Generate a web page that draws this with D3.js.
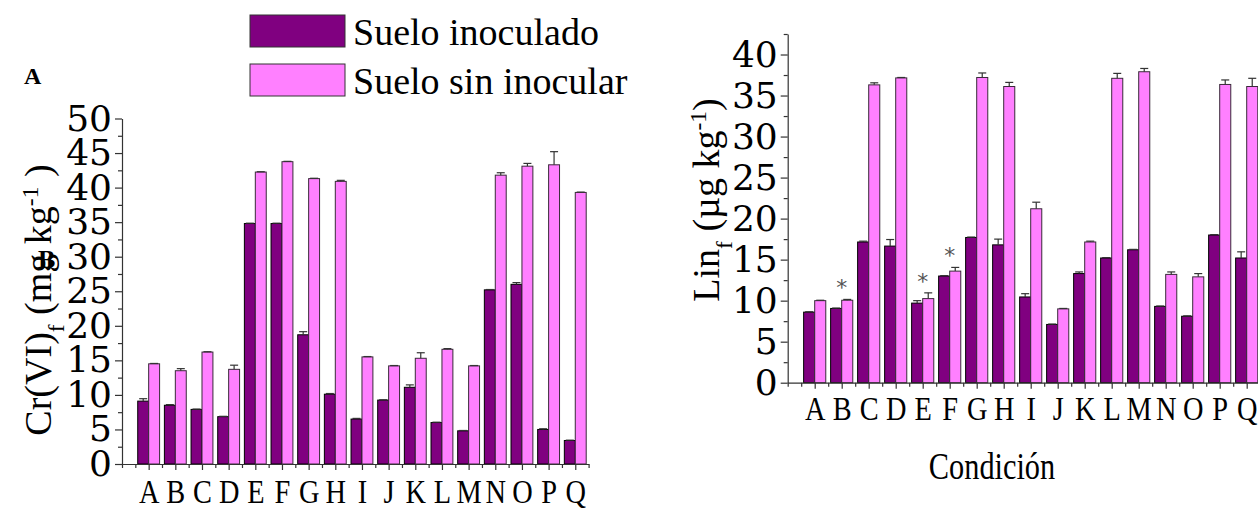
<!DOCTYPE html>
<html>
<head>
<meta charset="utf-8">
<script src="https://cdn.jsdelivr.net/npm/d3@7"></script>
<style>
  body { margin: 0; background: #fff; }
  svg { display: block; }
  text { font-family: "Liberation Serif", serif; fill: #000; }
  .axis path, .axis line { stroke: #333; stroke-width: 1.2; }
  .ylab text { font-family: "DejaVu Serif", serif; }
  .xlab text { font-family: "Liberation Serif", serif; }
</style>
</head>
<body>
<svg id="chart" width="1258" height="509"></svg>
<script>
// categories (conditions)
const categories = ["A","B","C","D","E","F","G","H","I","J","K","L","M","N","O","P","Q"];

// panel A: Cr(VI)f (mg kg-1)
const crInoc    = [9.1, 8.5, 7.9, 6.85, 34.8, 34.8, 18.7, 10.1, 6.5, 9.25, 11.1, 6.0, 4.8, 25.2, 26.0, 5.0, 3.4];
const crInocErr = [0.35, 0.1, 0.05, 0.05, 0.05, 0.05, 0.45, 0.1, 0.1, 0.05, 0.35, 0.05, 0.05, 0.05, 0.25, 0.1, 0.05];
const crSin     = [14.5, 13.5, 16.2, 13.7, 42.25, 43.75, 41.3, 40.9, 15.5, 14.2, 15.3, 16.6, 14.2, 41.8, 43.1, 43.3, 39.3];
const crSinErr  = [0.05, 0.3, 0.05, 0.6, 0.05, 0.05, 0.05, 0.15, 0.05, 0.05, 0.8, 0.1, 0.05, 0.35, 0.4, 1.9, 0.05];

// panel B: Linf (ug kg-1)
const linInoc    = [8.6, 9.05, 17.15, 16.65, 9.7, 13.0, 17.7, 16.8, 10.45, 7.1, 13.3, 15.2, 16.2, 9.3, 8.1, 18.0, 15.2];
const linInocErr = [0.05, 0.05, 0.1, 0.8, 0.3, 0.05, 0.05, 0.7, 0.4, 0.05, 0.2, 0.05, 0.05, 0.05, 0.05, 0.05, 0.75];
const linSin     = [10.0, 10.05, 36.3, 37.15, 10.25, 13.6, 37.2, 36.1, 21.2, 9.0, 17.15, 37.1, 37.9, 13.2, 12.9, 36.35, 36.1];
const linSinErr  = [0.05, 0.1, 0.25, 0.05, 0.7, 0.45, 0.55, 0.5, 0.8, 0.05, 0.1, 0.6, 0.4, 0.3, 0.4, 0.55, 1.0];
const linStars   = ["B", "E", "F"];

const crTicks = [0, 5, 10, 15, 20, 25, 30, 35, 40, 45, 50];
const linTicks = [0, 5, 10, 15, 20, 25, 30, 35, 40];
const seriesNames = ["Suelo inoculado", "Suelo sin inocular"];
const colors = ["#800080", "#ff80ff"];

const svg = d3.select("#chart");

function panel(opt) {
  const x = d3.scaleLinear().domain([0, 17.5]).range([opt.left, opt.right]);
  const y = d3.scaleLinear().domain([0, opt.ymax]).range([opt.bottom, opt.top]);
  const g = svg.append("g");
  const bw = x(0.41) - x(0);

  const rows = categories.map((c, i) => ({
    c, i,
    v: [opt.inoc[i], opt.sin[i]],
    e: [opt.inocErr[i], opt.sinErr[i]]
  }));

  // bars + upward error bars
  rows.forEach(r => {
    [0, 1].forEach(s => {
      const x0 = s === 0 ? x(r.i + 1) - bw : x(r.i + 1);
      g.append("rect")
        .attr("x", x0).attr("width", bw)
        .attr("y", y(r.v[s])).attr("height", y(0) - y(r.v[s]))
        .attr("fill", colors[s])
        .attr("stroke", s === 0 ? "#000" : "#3a2a3a")
        .attr("stroke-width", 1);
      const cx = x0 + bw / 2;
      const top = y(r.v[s] + r.e[s]);
      g.append("line")
        .attr("x1", cx).attr("x2", cx)
        .attr("y1", y(r.v[s])).attr("y2", top)
        .attr("stroke", "#333").attr("stroke-width", 1.2);
      g.append("line")
        .attr("x1", cx - 4).attr("x2", cx + 4)
        .attr("y1", top).attr("y2", top)
        .attr("stroke", "#333").attr("stroke-width", 1.2);
    });
  });

  // significance stars
  if (opt.stars) {
    rows.filter(r => opt.stars.includes(r.c)).forEach(r => {
      const top = Math.min(y(r.v[0] + r.e[0]), y(r.v[1] + r.e[1]));
      g.append("text")
        .attr("x", x(r.i + 1)).attr("y", top - 4)
        .attr("text-anchor", "middle")
        .style("font-size", "22px").style("fill", "#555")
        .style("font-family", "DejaVu Sans, sans-serif")
        .text("*");
    });
  }

  // y axis
  const minorY = d3.range(0, opt.ymax + 0.01, 2.5).filter(v => v % 5 !== 0);
  g.append("g").attr("class", "axis")
    .attr("transform", `translate(${opt.left},0)`)
    .call(d3.axisLeft(y).tickValues(minorY).tickSize(4).tickSizeOuter(0).tickFormat(""))
    .call(a => a.select(".domain").remove());
  g.append("g").attr("class", "axis ylab")
    .attr("transform", `translate(${opt.left},0)`)
    .call(d3.axisLeft(y).tickValues(opt.ticks).tickSize(7).tickSizeOuter(0).tickPadding(3))
    .call(a => a.selectAll("text").style("font-size", "36px"));

  // x axis
  g.append("g").attr("class", "axis")
    .attr("transform", `translate(0,${opt.bottom})`)
    .call(d3.axisBottom(x).tickValues(d3.range(0, 17.6, 0.5).filter(v => v % 1 !== 0 || v === 0)).tickSize(4).tickSizeOuter(0).tickFormat(""))
    .call(a => a.select(".domain").remove());
  g.append("g").attr("class", "axis xlab")
    .attr("transform", `translate(0,${opt.bottom})`)
    .call(d3.axisBottom(x).tickValues(d3.range(1, 18)).tickSize(6).tickSizeOuter(0)
      .tickPadding(opt.xPad).tickFormat(i => categories[i - 1]))
    .call(a => a.selectAll("text")
      .style("font-size", "33px")
      .attr("transform", "scale(0.86,1)"));

  // y title
  const t = g.append("text")
    .attr("transform", `translate(${opt.titleX},${opt.titleY}) rotate(-90)`)
    .attr("text-anchor", "middle")
    .style("font-size", opt.titleFont + "px");
  opt.title.forEach(p => {
    const ts = t.append("tspan").text(p[0]);
    if (p[1]) ts.attr("baseline-shift", p[1]).style("font-size", (opt.titleFont * 0.62) + "px");
  });
  return { x, y };
}

panel({
  left: 122, right: 588.6, top: 118.5, bottom: 464, ymax: 50,
  inoc: crInoc, inocErr: crInocErr, sin: crSin, sinErr: crSinErr,
  ticks: crTicks, xPad: 10,
  title: [["Cr(VI)"], ["f", "sub"], [" (mg kg"], ["-1", "super"], [" )"]],
  titleX: 51, titleY: 300, titleFont: 38
});

panel({
  left: 787.7, right: 1260.2, top: 34, bottom: 382.7, ymax: 42.5,
  inoc: linInoc, inocErr: linInocErr, sin: linSin, sinErr: linSinErr,
  ticks: linTicks, xPad: 8, stars: linStars,
  title: [["Lin"], ["f", "sub"], [" (µg kg"], ["-1", "super"], [")"]],
  titleX: 719, titleY: 200, titleFont: 38
});

// x title
svg.append("text")
  .attr("transform", "translate(992,479) scale(0.82,1)")
  .attr("text-anchor", "middle")
  .style("font-size", "37px")
  .text("Condición");

// panel letters
svg.append("text").attr("x", 24).attr("y", 84)
  .style("font-size", "24px").style("font-weight", "bold").text("A");
svg.append("text").attr("x", 38).attr("y", 268)
  .style("font-size", "26px").style("font-weight", "bold").text("B");

// legend
const leg = svg.append("g");
seriesNames.forEach((n, i) => {
  leg.append("rect")
    .attr("x", 250).attr("y", 15 + i * 49)
    .attr("width", 95).attr("height", 32)
    .attr("fill", colors[i]).attr("stroke", "#333").attr("stroke-width", 1);
  leg.append("text")
    .attr("x", 353).attr("y", 45 + i * 49)
    .style("font-size", "38px")
    .text(n);
});
</script>
</body>
</html>
